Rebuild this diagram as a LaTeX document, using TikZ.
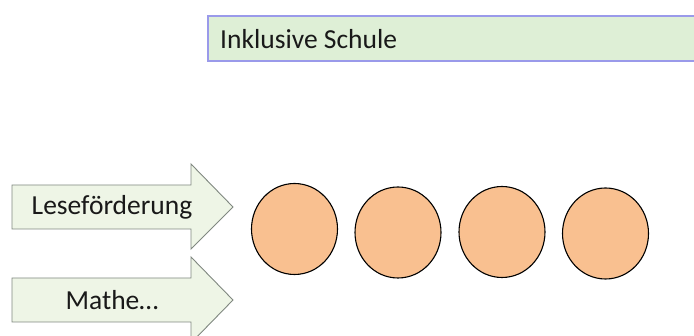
\documentclass[tikz,border=0pt]{standalone}
\usepackage{fontspec}
\setmainfont{Carlito}
\usetikzlibrary{shapes.geometric}
\definecolor{boxfill}{HTML}{DEEFD6}
\definecolor{boxline}{HTML}{9A9AEA}
\definecolor{arrfill}{HTML}{EEF5E6}
\definecolor{arrline}{HTML}{808880}
\definecolor{circfill}{HTML}{F9C090}
\tikzset{
  lbl/.style={font=\fontsize{27.5}{30}\selectfont, text=black!90, inner sep=0pt},
  arrowshape/.style={fill=arrfill, draw=arrline, line width=0.9pt, line join=miter},
  ball/.style={ellipse, draw=black, line width=1.1pt, fill=circfill, minimum width=86pt, minimum height=91pt, inner sep=0pt},
  topbox/.style={fill=boxfill, draw=boxline, line width=2pt}
}
\begin{document}
\begin{tikzpicture}[x=1pt,y=-1pt]
\useasboundingbox (0,0) rectangle (694,336);
% top box
\draw[topbox] (698,16) -- (208,16) -- (208,61) -- (698,61);
\node[lbl, anchor=west] (title) at (220,39.5) {Inklusive Schule};
% arrows
\draw[arrowshape] (12,185) -- (191,185) -- (191,164) -- (233,207) -- (191,249) -- (191,229) -- (12,229) -- cycle;
\node[lbl] (lese) at (112,207.5) {Leseförderung};
\draw[arrowshape] (12,278) -- (191,278) -- (191,257) -- (233,300) -- (191,343) -- (191,322) -- (12,322) -- cycle;
\node[lbl] (mathe) at (112,300.5) {Mathe…};
% circles
\node[ball] (c1) at (294.5,229) {};
\node[ball] (c2) at (398,232.5) {};
\node[ball] (c3) at (502,232) {};
\node[ball] (c4) at (605.5,233.5) {};
\end{tikzpicture}
\end{document}
